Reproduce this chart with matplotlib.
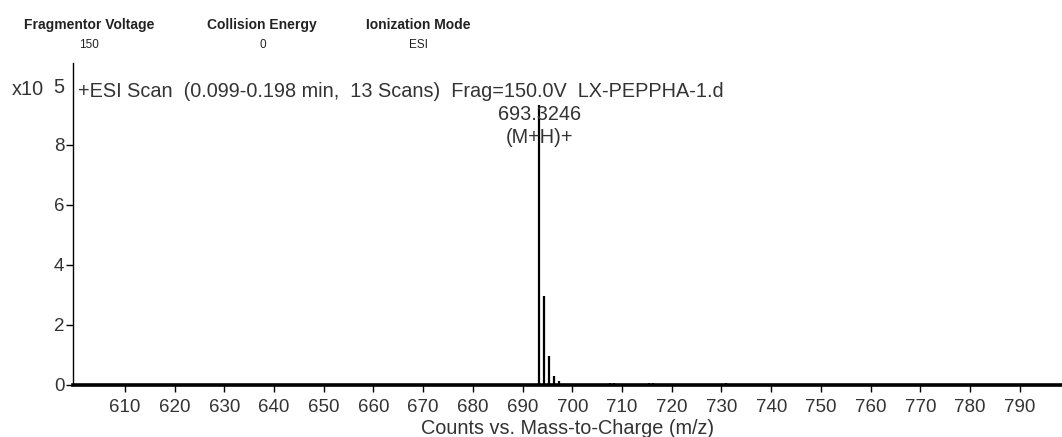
import matplotlib.pyplot as plt

################ styling #################
plt.rc('font', family='Liberation Sans')
plt.rc('font', size=14)

# ------------------------------------------------------------
# data (intensity in units of 10^5 counts)
# ------------------------------------------------------------
peak_mz = [693.3246, 694.33, 695.33, 696.33, 697.33, 707.5, 708.4, 715.4, 716.3, 731.0]
peak_counts = [9.33, 2.97, 0.97, 0.30, 0.12, 0.05, 0.05, 0.05, 0.05, 0.06]

x_ticks = list(range(610, 800, 10))
y_ticks = [0, 2, 4, 6, 8]

header_names = ['Fragmentor Voltage', 'Collision Energy', 'Ionization Mode']
header_values = ['150', '0', 'ESI']
header_x = [0.084, 0.247, 0.394]

txt_col = '#333333'
fs = 14.3
fs_tick = 13.5

fig = plt.figure(figsize=(10.62, 4.37), dpi=100)
ax = fig.add_axes([0.0685, 0.119, 0.9315, 0.737])

ax.vlines(peak_mz, 0, peak_counts, color='black', linewidth=1.6)

ax.set_xlim(599.5, 798.5)
ax.set_ylim(0, 10.73)
ax.set_xticks(x_ticks)
ax.set_yticks(y_ticks)
ax.tick_params(axis='both', direction='out', length=5, width=1,
               colors='black', labelcolor=txt_col, labelsize=fs_tick)
ax.tick_params(axis='x', pad=5)
ax.tick_params(axis='y', pad=1)

for s in ['top', 'right']:
    ax.spines[s].set_visible(False)
ax.spines['bottom'].set_linewidth(2.6)
ax.spines['left'].set_linewidth(1.0)

ax.set_xlabel('Counts vs. Mass-to-Charge (m/z)', color=txt_col, fontsize=fs, labelpad=2)

# scan description and exponent
ax.text(0.005, 0.91, '+ESI Scan  (0.099-0.198 min,  13 Scans)  Frag=150.0V  LX-PEPPHA-1.d',
        transform=ax.transAxes, color=txt_col, fontsize=fs, va='center', ha='left')
fig.text(0.011, 0.795, 'x10', color=txt_col, fontsize=fs, va='center', ha='left')
fig.text(0.050, 0.799, '5', color=txt_col, fontsize=fs, va='center', ha='left')

# peak label
ax.text(peak_mz[0], 9.0, '%.4f' % peak_mz[0], color=txt_col, fontsize=fs, ha='center', va='center')
ax.text(peak_mz[0], 8.25, '(M+H)+', color=txt_col, fontsize=fs, ha='center', va='center')

# header block
for name, val, xx in zip(header_names, header_values, header_x):
    fig.text(xx, 0.943, name, fontsize=10, fontweight='bold', color='#222222', ha='center', va='center')
    fig.text(xx, 0.897, val, fontsize=8.5, color='#222222', ha='center', va='center')

plt.savefig('out.png', dpi=100)
